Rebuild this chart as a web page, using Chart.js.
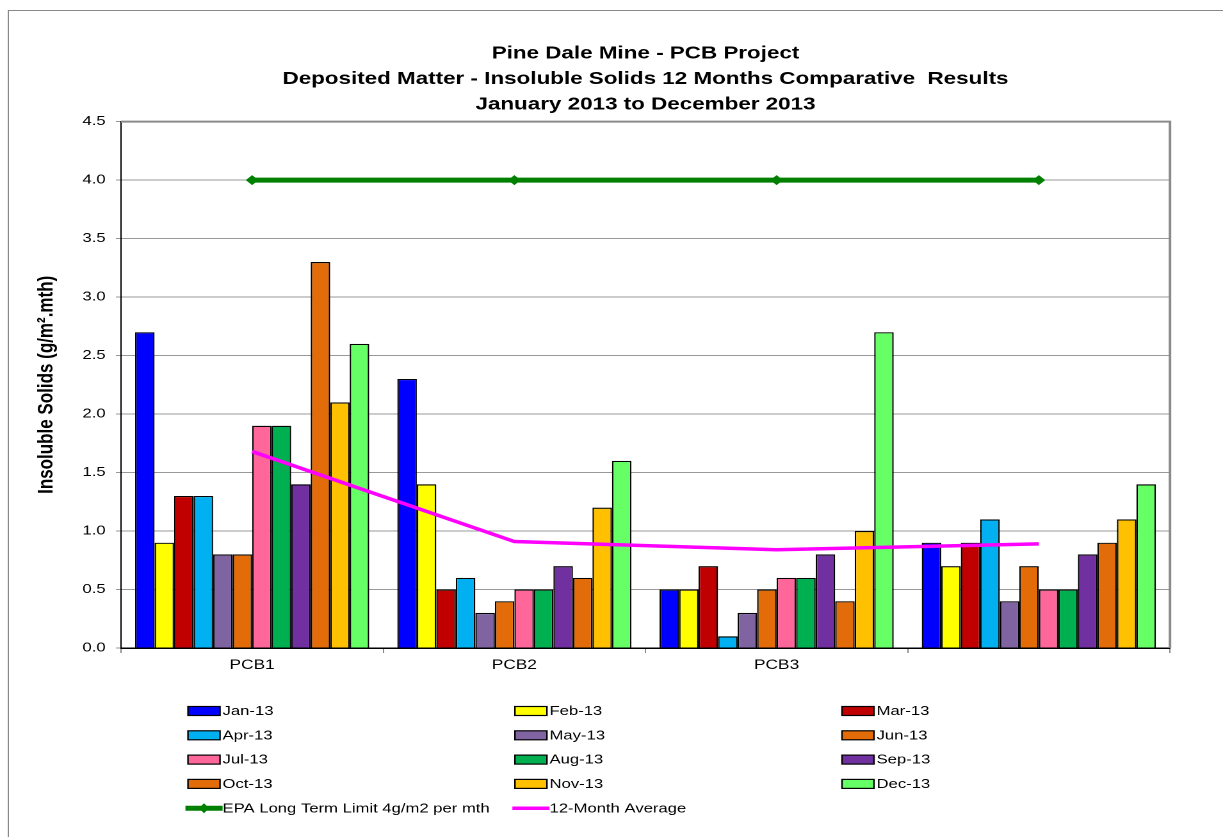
<!DOCTYPE html>
<html>
<head>
<meta charset="utf-8">
<title>Pine Dale Mine - PCB Project</title>
<script src="https://cdn.jsdelivr.net/npm/chart.js@4.4.1/dist/chart.umd.min.js"></script>
<style>
  html, body { margin: 0; padding: 0; background: #fff; overflow: hidden; }
  /* the reference is a horizontally stretched picture, so the chart is drawn narrow and stretched */
  #wrap { width: 955px; height: 837px; transform: scaleX(1.2806); transform-origin: 0 0; }
</style>
</head>
<body>
<div id="wrap"><canvas id="chart" width="955" height="837"></canvas></div>
<script>
const categories = ["PCB1", "PCB2", "PCB3", ""];
const months = ["Jan-13", "Feb-13", "Mar-13", "Apr-13", "May-13", "Jun-13",
                "Jul-13", "Aug-13", "Sep-13", "Oct-13", "Nov-13", "Dec-13"];

// monthly values per site, Jan..Dec
const pcb1 = [2.7, 0.9, 1.3, 1.3, 0.8, 0.8, 1.9, 1.9, 1.4, 3.3, 2.1, 2.6];
const pcb2 = [2.3, 1.4, 0.5, 0.6, 0.3, 0.4, 0.5, 0.5, 0.7, 0.6, 1.2, 1.6];
const pcb3 = [0.5, 0.5, 0.7, 0.1, 0.3, 0.5, 0.6, 0.6, 0.8, 0.4, 1.0, 2.7];
const site4 = [0.9, 0.7, 0.9, 1.1, 0.4, 0.7, 0.5, 0.5, 0.8, 0.9, 1.1, 1.4];

const epaLimit = [4.0, 4.0, 4.0, 4.0];
const average12 = [1.68, 0.91, 0.84, 0.89];

const yTicks = [0, 0.5, 1.0, 1.5, 2.0, 2.5, 3.0, 3.5, 4.0, 4.5];

const monthColors = ["#0000FF", "#FFFF00", "#C00000", "#00B0F0", "#8064A2", "#E36C09",
                     "#FF6699", "#00B050", "#7030A0", "#E26B0A", "#FFC000", "#66FF66"];

const FONT = "'Liberation Sans', Arial, sans-serif";
const sites = [pcb1, pcb2, pcb3, site4];

const barSets = months.map((m, i) => ({
  type: "bar",
  label: m,
  data: sites.map(s => s[i]),
  backgroundColor: monthColors[i],
  borderColor: "#000",
  borderWidth: 1.2,
  categoryPercentage: 0.893,
  barPercentage: 1.0,
  order: 2
}));

const lineSets = [
  {
    type: "line",
    label: "EPA Long Term Limit 4g/m2 per mth",
    data: epaLimit,
    borderColor: "#008000",
    backgroundColor: "#008000",
    borderWidth: 5,
    pointStyle: "rectRot",
    pointRadius: 5,
    pointBorderWidth: 0,
    order: 0
  },
  {
    type: "line",
    label: "12-Month Average",
    data: average12,
    borderColor: "#FF00FF",
    backgroundColor: "#FF00FF",
    borderWidth: 3.5,
    pointRadius: 0,
    tension: 0,
    order: 1
  }
];

const framePlugin = {
  id: "frame",
  beforeDraw(chart) {
    const ctx = chart.ctx;
    ctx.save();
    ctx.strokeStyle = "#888";
    ctx.lineWidth = 1;
    ctx.strokeRect(6.5, 10.5, 2000, 2000);
    ctx.restore();
  },
  beforeDatasetsDraw(chart) {
    const a = chart.chartArea;
    const ctx = chart.ctx;
    ctx.save();
    ctx.strokeStyle = "#8a8a8a";
    ctx.lineWidth = 2;
    ctx.beginPath();
    ctx.moveTo(a.left, a.top);
    ctx.lineTo(a.right, a.top);
    ctx.lineTo(a.right, a.bottom);
    ctx.stroke();
    ctx.restore();
  }
};

// legend in three columns under the plot
const gridLegend = {
  id: "gridLegend",
  afterDraw(chart) {
    const ctx = chart.ctx;
    const cols = [146.8, 402.1, 657.5];
    ctx.save();
    ctx.font = "13px " + FONT;
    ctx.textBaseline = "middle";
    ctx.fillStyle = "#000";
    chart.data.datasets.forEach((ds, i) => {
      const x = cols[i % 3];
      const y = 711 + Math.floor(i / 3) * 24.3;
      if (ds.type === "bar") {
        ctx.fillStyle = ds.backgroundColor;
        ctx.fillRect(x, y - 4.5, 25, 9);
        ctx.strokeStyle = "#000";
        ctx.lineWidth = 1.2;
        ctx.strokeRect(x, y - 4.5, 25, 9);
      } else {
        ctx.strokeStyle = ds.borderColor;
        ctx.lineWidth = ds.borderWidth;
        ctx.beginPath();
        ctx.moveTo(x - 2, y);
        ctx.lineTo(x + 27, y);
        ctx.stroke();
        if (ds.pointRadius) {
          ctx.fillStyle = ds.borderColor;
          ctx.beginPath();
          ctx.moveTo(x + 12.5, y - 5);
          ctx.lineTo(x + 16.5, y);
          ctx.lineTo(x + 12.5, y + 5);
          ctx.lineTo(x + 8.5, y);
          ctx.closePath();
          ctx.fill();
        }
      }
      ctx.fillStyle = "#000";
      ctx.fillText(ds.label, x + 27, y + 0.5);
    });
    ctx.restore();
  }
};

new Chart(document.getElementById("chart"), {
  data: {
    labels: categories,
    datasets: [...barSets, ...lineSets]
  },
  options: {
    responsive: false,
    devicePixelRatio: 2,
    animation: false,
    layout: { padding: { left: 0, right: 41.4, top: 0, bottom: 0 } },
    plugins: {
      legend: { display: false },
      tooltip: { enabled: false },
      title: {
        display: true,
        fullSize: false,
        text: ["Pine Dale Mine - PCB Project",
               "Deposited Matter - Insoluble Solids 12 Months Comparative  Results",
               "January 2013 to December 2013"],
        color: "#000",
        font: { family: FONT, size: 17.5, weight: "bold", lineHeight: 1.46 },
        padding: { top: 41, bottom: 4 }
      }
    },
    scales: {
      x: {
        type: "category",
        offset: true,
        afterFit: s => { s.height = 189; },
        grid: { display: true, drawOnChartArea: false, drawTicks: true, tickLength: 5, color: "#888", offset: true },
        border: { display: true, color: "#000", width: 1.5 },
        ticks: { color: "#000", font: { family: FONT, size: 13.5 }, padding: 4 }
      },
      y: {
        min: 0,
        max: 4.5,
        afterFit: s => { s.width = 94.5; },
        afterBuildTicks: s => { s.ticks = yTicks.map(v => ({ value: v })); },
        grid: { color: "#999", lineWidth: 1, tickLength: 4 },
        border: { display: true, color: "#000", width: 1 },
        ticks: {
          color: "#000",
          font: { family: FONT, size: 13 },
          padding: 8,
          callback: v => Number(v).toFixed(1)
        },
        title: {
          display: true,
          text: "Insoluble Solids (g/m\u00B2.mth)",
          color: "#000",
          font: { family: FONT, size: 17, weight: "bold" },
          padding: { top: 26, bottom: 0 }
        }
      }
    }
  },
  plugins: [framePlugin, gridLegend]
});
</script>
</body>
</html>
